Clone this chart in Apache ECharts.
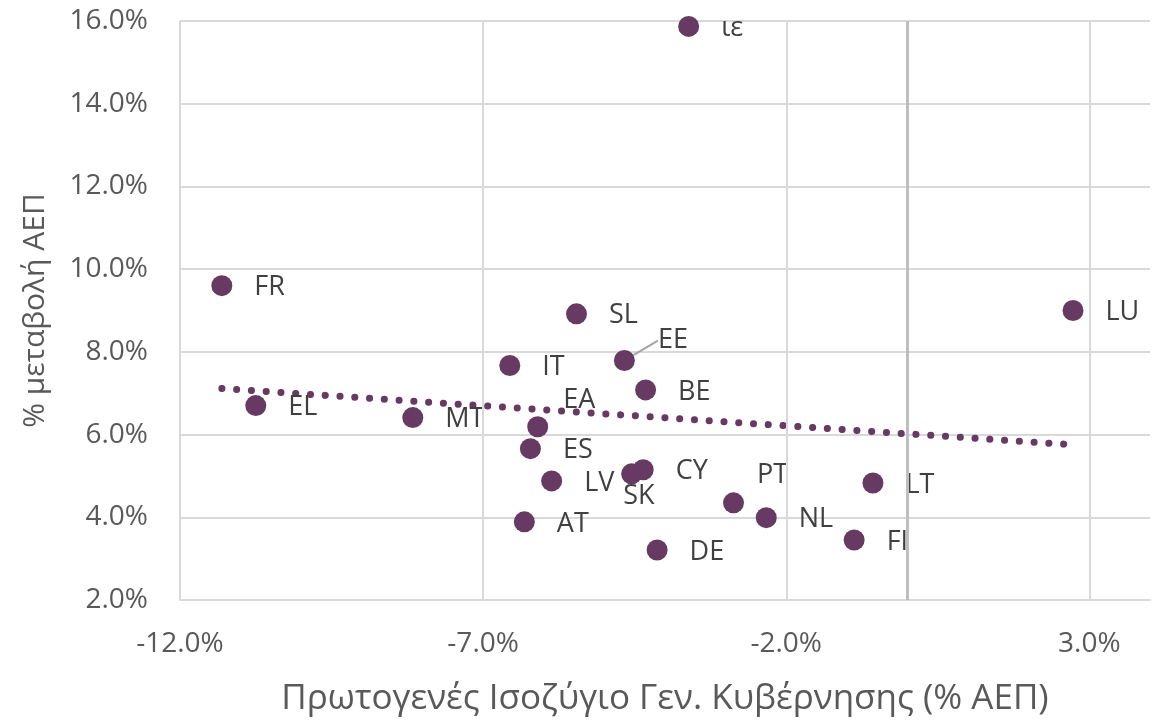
<!DOCTYPE html>
<html>
<head>
<meta charset="utf-8">
<script src="https://cdn.jsdelivr.net/npm/echarts@6/dist/echarts.min.js"></script>
<style>
  html, body { margin: 0; padding: 0; background: #fff; }
  #chart { width: 1159px; height: 722px; }
</style>
</head>
<body>
<div id="chart"></div>
<script>
// χώρες / ισοζύγιο (% ΑΕΠ) / μεταβολή ΑΕΠ (%)
var countries = ['ιε', 'FR', 'EL', 'MT', 'IT', 'SL', 'EE', 'BE', 'EA', 'ES', 'LV', 'SK', 'CY', 'AT', 'DE', 'PT', 'NL', 'FI', 'LT', 'LU'];
var balance   = [-3.61, -11.31, -10.75, -8.16, -6.56, -5.46, -4.67, -4.32, -6.10, -6.22, -5.87, -4.55, -4.36, -6.32, -4.13, -2.87, -2.33, -0.88, -0.57, 2.73];
var gdpChange = [15.87, 9.60, 6.70, 6.41, 7.67, 8.92, 7.79, 7.08, 6.19, 5.66, 4.88, 5.05, 5.15, 3.89, 3.21, 4.35, 3.99, 3.45, 4.83, 9.00];
var xTicks = [-12, -7, -2, 3];

// μετατόπιση ετικετών (px)
var labelShift = {
    'EA': [-7, -26],
    'SK': [-41, 22],
    'PT': [-9, -27],
    'EE': [1, -20]
};

var points = countries.map(function (c, i) {
    var item = { name: c, value: [balance[i], gdpChange[i]] };
    if (c === 'EE') {
        item.labelLine = { show: true };
    }
    return item;
});

// γραμμή τάσης (ελάχιστα τετράγωνα)
var n = balance.length, mx = 0, my = 0;
balance.forEach(function (v, i) { mx += v / n; my += gdpChange[i] / n; });
var sxy = 0, sxx = 0;
balance.forEach(function (v, i) { sxy += (v - mx) * (gdpChange[i] - my); sxx += (v - mx) * (v - mx); });
var slope = sxy / sxx, icpt = my - slope * mx;
var xLo = Math.min.apply(null, balance), xHi = Math.max.apply(null, balance);
var trend = [[xLo, icpt + slope * xLo], [xHi, icpt + slope * xHi]];

var chart = echarts.init(document.getElementById('chart'));
chart.setOption({
    animation: false,
    grid: { left: 180, right: 9, top: 21, bottom: 122 },
    xAxis: {
        type: 'value',
        min: -12,
        max: 4,
        interval: 5,
        name: 'Πρωτογενές Ισοζύγιο Γεν. Κυβέρνησης (% ΑΕΠ)',
        nameLocation: 'middle',
        nameGap: 82,
        nameTextStyle: { fontFamily: 'Open Sans', fontSize: 35, color: '#595959' },
        axisLine: { lineStyle: { color: '#d9d9d9', width: 2 } },
        axisTick: { show: false },
        splitLine: { show: false },
        axisLabel: {
            margin: 30,
            fontFamily: 'Open Sans',
            fontSize: 28,
            color: '#595959',
            showMaxLabel: false,
            formatter: function (v) { return v.toFixed(1) + '%'; }
        }
    },
    yAxis: {
        type: 'value',
        min: 2,
        max: 16,
        interval: 2,
        name: '% μεταβολή ΑΕΠ',
        nameLocation: 'middle',
        nameGap: 130,
        nameTextStyle: { fontFamily: 'Open Sans', fontSize: 30, color: '#595959' },
        axisLine: { show: false },
        axisTick: { show: false },
        splitLine: { lineStyle: { color: '#d9d9d9', width: 2 } },
        axisLabel: {
            margin: 32,
            fontFamily: 'Open Sans',
            fontSize: 28,
            color: '#595959',
            formatter: function (v) { return v.toFixed(1) + '%'; }
        }
    },
    series: [
        {
            type: 'line',
            data: trend,
            symbol: 'none',
            silent: true,
            z: 2,
            lineStyle: { color: '#673a63', width: 7, type: [0.1, 14.7], cap: 'round' },
            markLine: {
                silent: true,
                symbol: 'none',
                label: { show: false },
                data: xTicks.map(function (t) {
                    return { xAxis: t, lineStyle: { color: '#d9d9d9', width: 2, type: 'solid' } };
                }).concat([{ xAxis: 0, lineStyle: { color: '#bfbfbf', width: 3, type: 'solid' } }])
            }
        },
        {
            type: 'scatter',
            data: points,
            symbolSize: 21,
            z: 3,
            itemStyle: { color: '#673a63', opacity: 1 },
            label: {
                show: true,
                position: 'right',
                distance: 22,
                formatter: '{b}',
                fontFamily: 'Open Sans',
                fontSize: 27,
                color: '#404040'
            },
            labelLine: { show: false, lineStyle: { color: '#a6a6a6', width: 2 } },
            labelLayout: function (p) {
                var s = labelShift[countries[p.dataIndex]] || [0, 2];
                return { dx: s[0], dy: s[1] };
            }
        }
    ]
});
</script>
</body>
</html>
